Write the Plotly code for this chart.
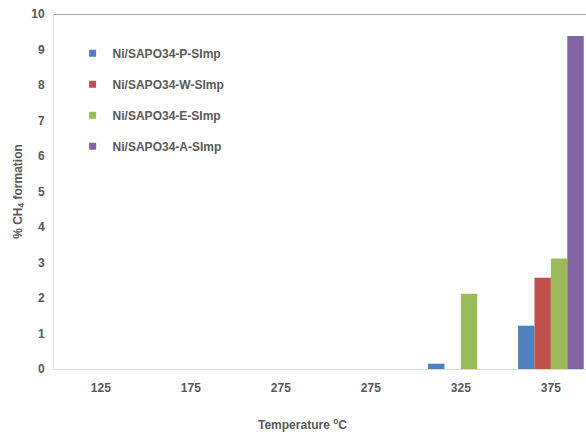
import plotly.graph_objects as go

categories = ["125", "175", "275", "275", "325", "375"]
series_names = ["Ni/SAPO34-P-SImp", "Ni/SAPO34-W-SImp", "Ni/SAPO34-E-SImp", "Ni/SAPO34-A-SImp"]
p_vals = [0, 0, 0, 0, 0.15, 1.22]
w_vals = [0, 0, 0, 0, 0, 2.57]
e_vals = [0, 0, 0, 0, 2.12, 3.11]
a_vals = [0, 0, 0, 0, 0, 9.38]
colors = ["#4F81BD", "#C0504D", "#9BBB59", "#8064A2"]
y_ticks = [0, 1, 2, 3, 4, 5, 6, 7, 8, 9, 10]

x_pos = list(range(len(categories)))
fig = go.Figure()
for name, vals, col in zip(series_names, [p_vals, w_vals, e_vals, a_vals], colors):
    fig.add_trace(go.Bar(x=x_pos, y=vals, name=name, marker=dict(color=col, line=dict(width=0)),
                         showlegend=False, legendgroup=name))
    fig.add_trace(go.Scatter(x=[None], y=[None], mode="markers", name=name, legendgroup=name,
                             marker=dict(symbol="square", size=7, color=col)))

font_family = "Liberation Sans, Arial, sans-serif"
tick_color = "#595959"
bold12 = dict(size=12, color=tick_color, family=font_family, weight="bold")
fig.update_layout(
    width=586, height=439,
    margin=dict(l=54, r=0, t=14, b=70, autoexpand=False),
    paper_bgcolor="white", plot_bgcolor="white",
    barmode="group", bargap=0.27, bargroupgap=0,
    font=bold12,
    legend=dict(x=0.035, y=0.93, xanchor="left", yanchor="top", tracegroupgap=12,
                font=bold12, bgcolor="rgba(0,0,0,0)", itemsizing="trace"),
    xaxis=dict(range=[-0.52, 5.39], tickvals=x_pos, ticktext=categories, automargin=False,
               showgrid=False, zeroline=False, showline=True, linecolor="#D9D9D9", linewidth=1,
               ticks="", ticklabelstandoff=8, tickfont=bold12),
    yaxis=dict(range=[0, 10], tickvals=y_ticks, ticktext=[str(t) for t in y_ticks], automargin=False,
               showgrid=False, zeroline=False, showline=True, linecolor="#E6E6E6", linewidth=1,
               ticks="", ticklabelstandoff=6, tickfont=bold12,
               title=dict(text="% CH<sub>4</sub> formation", standoff=6, font=bold12)),
    shapes=[dict(type="line", xref="paper", yref="y", x0=0, x1=1, y0=10, y1=10,
                 line=dict(color="#8C8C8C", width=1.5))],
    annotations=[dict(text="Temperature <sup>o</sup>C", xref="paper", yref="paper",
                      x=0.468, y=-0.155, xanchor="center", yanchor="middle", showarrow=False,
                      font=bold12)],
)
fig.write_html("out.html", config={"displayModeBar": False},
               post_script="document.body.style.margin='0';document.body.style.overflow='hidden';")
